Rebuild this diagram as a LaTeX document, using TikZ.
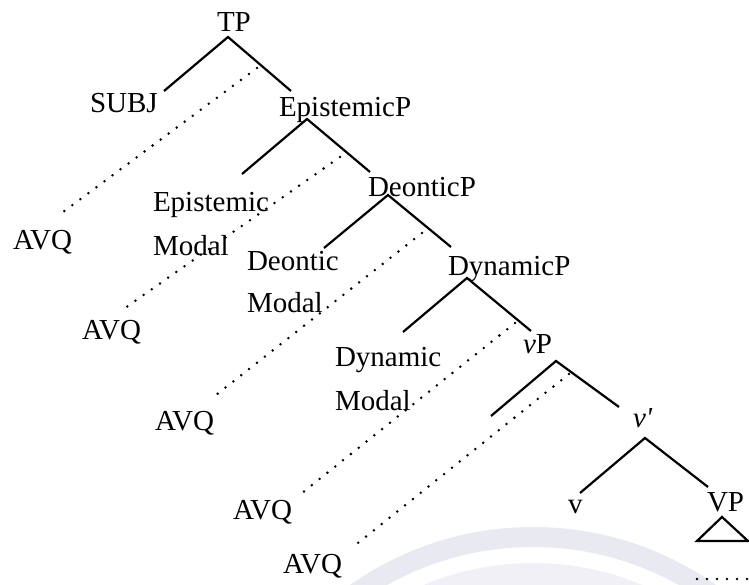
\documentclass[tikz,border=0pt]{standalone}
\usepackage{fontspec}
\setmainfont{Liberation Serif}
\definecolor{wmgray}{RGB}{233,233,242}
\definecolor{wmlight}{RGB}{240,240,246}
\begin{document}
\begin{tikzpicture}[x=1pt,y=-1pt,
  lbl/.style={anchor=base west,inner sep=0pt,outer sep=0pt,font=\fontsize{29}{34}\selectfont},
  branch/.style={line width=2.2pt,line cap=butt},
  avqlink/.style={line width=2.8pt,line cap=round,dash pattern=on 0pt off 10pt}]
\useasboundingbox (0,0) rectangle (749,585);

% faint watermark in the background
\fill[wmgray,even odd rule] (533,845) circle (318) (533,845) circle (298);
\fill[wmlight,even odd rule] (533,845) circle (282) (533,845) circle (255);

% labels
\node[lbl] (tp)    at (217,31.5)  {TP};
\node[lbl] (subj)  at (90,112.5)  {SUBJ};
\node[lbl] (epp)   at (279,116.5) {EpistemicP};
\node[lbl] (epm1)  at (153,212)   {Epistemic};
\node[lbl] (epm2)  at (153,255.5) {Modal};
\node[lbl] (avq1)  at (13,249.5)  {AVQ};
\node[lbl] (dep)   at (368,197)   {DeonticP};
\node[lbl] (dem1)  at (247,270)   {Deontic};
\node[lbl] (dem2)  at (247,312)   {Modal};
\node[lbl] (avq2)  at (82,339.5)  {AVQ};
\node[lbl] (dyp)   at (448,276)   {DynamicP};
\node[lbl] (dym1)  at (335,366)   {Dynamic};
\node[lbl] (dym2)  at (335,410)   {Modal};
\node[lbl] (avq3)  at (155,430)   {AVQ};
\node[lbl] (vp)    at (523,353)   {\textit{v}P};
\node[lbl] (avq4)  at (233,519)   {AVQ};
\node[lbl] (vbar)  at (633,427)   {\textit{v\textquotesingle}};
\node[lbl] (avq5)  at (283,573)   {AVQ};
\node[lbl] (vhead) at (568,513)   {v};
\node[lbl] (vpbig) at (707,511)   {VP};

% branch points
\coordinate (tpA) at (228,37);  \coordinate (tpL) at (164,91);  \coordinate (tpR) at (291,91);
\coordinate (epA) at (307,119); \coordinate (epL) at (242,174); \coordinate (epR) at (370,172);
\coordinate (deA) at (388,195); \coordinate (deL) at (324,248); \coordinate (deR) at (451,247);
\coordinate (dyA) at (467,278); \coordinate (dyL) at (403,332); \coordinate (dyR) at (531,331);
\coordinate (vpA) at (556,361); \coordinate (vpL) at (491,416); \coordinate (vpR) at (619,407);
\coordinate (vbA) at (645,438); \coordinate (vbL) at (580,493); \coordinate (vbR) at (708,487);

\draw[branch] (tpL) -- (tpA) -- (tpR);
\draw[branch] (epL) -- (epA) -- (epR);
\draw[branch] (deL) -- (deA) -- (deR);
\draw[branch] (dyL) -- (dyA) -- (dyR);
\draw[branch] (vpL) -- (vpA) -- (vpR);
\draw[branch] (vbL) -- (vbA) -- (vbR);

% triangle under VP
\coordinate (triA) at (722,517); \coordinate (triL) at (697,541); \coordinate (triR) at (748,541);
\draw[branch,line join=miter] (triL) -- (triA) -- (triR) -- cycle;

% dotted adjunction links
\coordinate (d1t) at (257,68);  \coordinate (d1b) at (59,215);
\coordinate (d2t) at (340,157); \coordinate (d2b) at (125,308);
\coordinate (d3t) at (422,233); \coordinate (d3b) at (216,395);
\coordinate (d4t) at (515,323); \coordinate (d4b) at (302,493);
\coordinate (d5t) at (569,374); \coordinate (d5b) at (358,543);
\draw[avqlink] (d1t) -- (d1b);
\draw[avqlink] (d2t) -- (d2b);
\draw[avqlink] (d3t) -- (d3b);
\draw[avqlink] (d4t) -- (d4b);
\draw[avqlink] (d5t) -- (d5b);

\coordinate (hdl) at (697,579); \coordinate (hdr) at (749,579);
\draw[avqlink] (hdl) -- (hdr);
\end{tikzpicture}
\end{document}
